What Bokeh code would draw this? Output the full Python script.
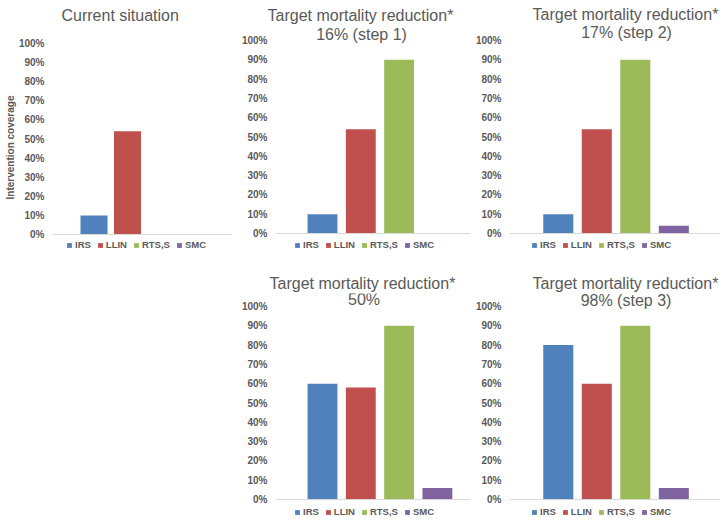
from bokeh.plotting import figure
from bokeh.models import Range1d, FixedTicker, NumeralTickFormatter, Label, Span, ColumnDataSource, Spacer, Title
from bokeh.layouts import row, column
from bokeh.embed import file_html
from bokeh.resources import INLINE

# ---------------- data ----------------
series = ["IRS", "LLIN", "RTS,S", "SMC"]
colors = ["#4F81BD", "#C0504D", "#9BBB59", "#8064A2"]
y_ticks = [0.0, 0.1, 0.2, 0.3, 0.4, 0.5, 0.6, 0.7, 0.8, 0.9, 1.0]

current_situation = [0.10, 0.54, 0.0, 0.0]
target_16_step1 = [0.10, 0.54, 0.90, 0.0]
target_17_step2 = [0.10, 0.54, 0.90, 0.04]
target_50 = [0.60, 0.58, 0.90, 0.06]
target_98_step3 = [0.80, 0.60, 0.90, 0.06]

title_current = ["Current situation"]
title_16 = ["Target mortality reduction*", "16% (step 1)"]
title_17 = ["Target mortality reduction*", "17% (step 2)"]
title_50 = ["Target mortality reduction*", "50%"]
title_98 = ["Target mortality reduction*", "98% (step 3)"]

GRAY = "#595959"
FONT = "Liberation Sans"


def panel(values, title_lines, title_offset, title_standoff, line2_xy, width, height,
          bl, br, bt, xr, yr, bar_w, legend_xy, ylabel=None):
    p = figure(width=width, height=height, x_range=Range1d(*xr), y_range=Range1d(*yr),
               output_backend="svg", toolbar_location=None, x_axis_location=None,
               min_border=0, min_border_left=bl, min_border_right=br,
               min_border_top=bt, min_border_bottom=0, outline_line_color=None)
    p.grid.visible = False
    src = ColumnDataSource(dict(x=list(range(len(series))), top=values,
                                series=series, color=colors))
    p.vbar(x="x", top="top", bottom=0, width=bar_w, source=src, fill_color="color",
           line_color=None, legend_field="series")
    p.add_layout(Span(location=0, dimension="width", line_color="#D9D9D9", line_width=1))

    ax = p.yaxis[0]
    ax.ticker = FixedTicker(ticks=y_ticks)
    ax.formatter = NumeralTickFormatter(format="0%")
    ax.axis_line_color = None
    ax.major_tick_line_color = None
    ax.minor_tick_line_color = None
    ax.major_tick_out = 0
    ax.major_tick_in = 0
    ax.major_label_standoff = 8
    ax.major_label_text_font = FONT
    ax.major_label_text_font_size = "10px"
    ax.major_label_text_font_style = "bold"
    ax.major_label_text_color = GRAY
    if ylabel:
        ax.axis_label = ylabel
        ax.axis_label_standoff = 0
        ax.axis_label_text_font = FONT
        ax.axis_label_text_font_size = "10px"
        ax.axis_label_text_font_style = "bold"
        ax.axis_label_text_color = GRAY

    p.add_layout(Title(text=title_lines[0], align="left", offset=title_offset,
                       standoff=title_standoff, text_font=FONT, text_font_size="16px",
                       text_font_style="normal", text_color=GRAY), "above")
    if len(title_lines) > 1:
        p.add_layout(Label(x=line2_xy[0], y=line2_xy[1], x_units="screen", y_units="screen",
                           text=title_lines[1], text_align="center", text_baseline="middle",
                           text_font=FONT, text_font_size="16px", text_color=GRAY))

    leg = p.legend[0]
    leg.location = legend_xy
    leg.orientation = "horizontal"
    leg.glyph_width = 6
    leg.glyph_height = 6
    leg.label_standoff = 3
    leg.spacing = 6
    leg.padding = 0
    leg.margin = 0
    leg.label_height = 10
    leg.label_width = 0
    leg.border_line_color = None
    leg.background_fill_alpha = 0
    leg.label_text_font = FONT
    leg.label_text_font_size = "9.5px"
    leg.label_text_font_style = "bold"
    leg.label_text_color = GRAY
    return p


TOP_H = 270
BOT_H = 251

p1 = panel(current_situation, title_current, 9, 2, None, 234, TOP_H, 52, 2, 24,
           (-1.239, 4.134), (-36 / 191, 1 + 19 / 191), 0.806, (14, 20),
           ylabel="Intervention coverage")
p2 = panel(target_16_step1, title_16, -8, 2, (86, 236), 238, TOP_H, 41, 2, 24,
           (-1.227, 3.864), (-37 / 193, 1 + 16 / 193), 0.78, (19, 20))
p3 = panel(target_17_step2, title_17, 23, 3, (117, 238), 250, TOP_H, 36, 2, 24,
           (-1.266, 4.212), (-37 / 193, 1 + 16 / 193), 0.78, (22, 20))
p4 = panel(target_50, title_50, -6, 4, (88.5, 222), 238, BOT_H, 41, 2, 22,
           (-1.227, 3.864), (-22 / 194, 1 + 13 / 194), 0.78, (19, 4))
p5 = panel(target_98_step3, title_98, 23, 4, (116.5, 221), 250, BOT_H, 36, 2, 22,
           (-1.266, 4.212), (-22 / 194, 1 + 13 / 194), 0.78, (22, 4))

layout = column(row(p1, p2, p3, spacing=0),
                row(Spacer(width=234, height=BOT_H), p4, p5, spacing=0),
                spacing=0)

open("out.html", "w").write(file_html(layout, INLINE))
